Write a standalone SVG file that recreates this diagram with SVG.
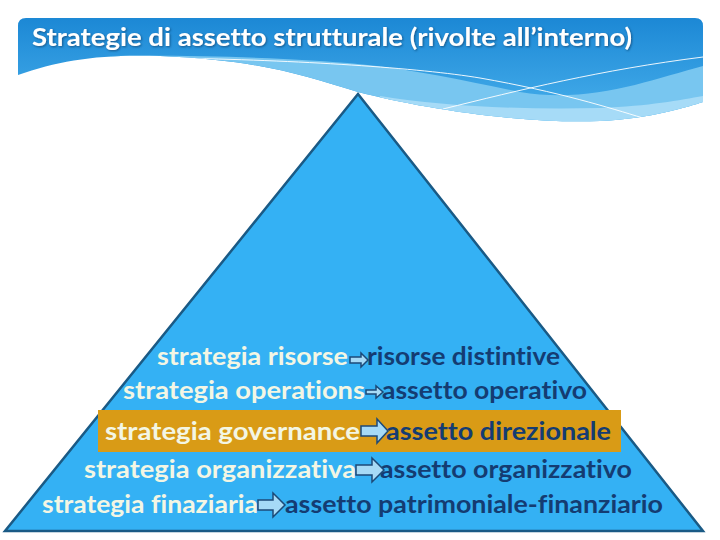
<svg xmlns="http://www.w3.org/2000/svg" width="720" height="540" viewBox="0 0 720 540">
  <defs>
    <linearGradient id="hdr" x1="0" y1="0" x2="0" y2="1">
      <stop offset="0" stop-color="#1c88d5"/>
      <stop offset="1" stop-color="#48b0ec"/>
    </linearGradient>
    <clipPath id="hclip">
      <path d="M26,18 H695 Q703,18 703,26 V102 C690,106 650,119 600,121 C520,124 420,108 358,92 C300,75 260,60 160,56 C100,54 60,60 18,75 V26 Q18,18 26,18 Z"/>
    </clipPath>
    <filter id="sh" x="-5%" y="-20%" width="110%" height="140%">
      <feDropShadow dx="1" dy="1" stdDeviation="0.8" flood-color="#0b3c66" flood-opacity="0.7"/>
    </filter>
    <style>
      .t { font-family: Lato, "Open Sans", "DejaVu Sans", sans-serif; font-weight: 700; font-size: 25px; font-variant-ligatures: none; }
      .l { fill: #f3f6e4; }
      .r { fill: #143c72; }
      .arr { fill: #a6daf6; stroke: #1c4a78; stroke-width: 1.5; stroke-linejoin: miter; }
      .wl { fill: none; stroke: #ffffff; stroke-width: 1; opacity: 0.9; }
    </style>
  </defs>

  <rect width="720" height="540" fill="#ffffff"/>

  <g id="header">
    <path d="M26,18 H695 Q703,18 703,26 V102 C690,106 650,119 600,121 C520,124 420,108 358,92 C300,75 260,60 160,56 C100,54 60,60 18,75 V26 Q18,18 26,18 Z" fill="url(#hdr)"/>
    <g clip-path="url(#hclip)">
      <path d="M110,56 C200,55 300,58 358,64 C420,70 470,82 520,92 C590,104 650,80 703,66 L703,140 L110,140 Z" fill="#78c6f0"/>
      <path d="M380,96 C440,106 520,110 600,108 C650,106 680,100 703,96 L703,140 L380,140 Z" fill="#a6dbf7"/>
      <path class="wl" d="M170,58 C300,60 420,68 480,78 C560,92 610,108 643,118"/>
      <path class="wl" d="M443,109 C520,90 600,70 703,57"/>
    </g>
    <text x="32" y="46" class="t" style="font-size:24px" fill="#ffffff" filter="url(#sh)" textLength="600" lengthAdjust="spacingAndGlyphs">Strategie di assetto strutturale (rivolte all’interno)</text>
  </g>

  <g id="pyramid">
    <polygon points="358,94 703,531 5,531" fill="#34b1f4" stroke="#1a5a85" stroke-width="2.5" stroke-linejoin="miter"/>
  </g>

  <g id="gold-band">
    <rect x="98" y="410" width="523" height="42" fill="#d99b16"/>
  </g>

  <g id="row1">
    <text x="157" y="365" class="t l" textLength="191" lengthAdjust="spacingAndGlyphs">strategia risorse</text>
    <text x="367" y="365" class="t r" textLength="193" lengthAdjust="spacingAndGlyphs">risorse distintive</text>
  </g>
  <g id="row2">
    <text x="123" y="399" class="t l" textLength="242" lengthAdjust="spacingAndGlyphs">strategia operations</text>
    <text x="382" y="399" class="t r" textLength="205" lengthAdjust="spacingAndGlyphs">assetto operativo</text>
  </g>
  <g id="row3">
    <text x="105" y="440" class="t l" textLength="255" lengthAdjust="spacingAndGlyphs">strategia governance</text>
    <text x="386" y="440" class="t r" textLength="225" lengthAdjust="spacingAndGlyphs">assetto direzionale</text>
  </g>
  <g id="row4">
    <text x="84" y="478" class="t l" textLength="272" lengthAdjust="spacingAndGlyphs">strategia organizzativa</text>
    <text x="380" y="478" class="t r" textLength="252" lengthAdjust="spacingAndGlyphs">assetto organizzativo</text>
  </g>
  <g id="row5">
    <text x="42" y="513" class="t l" textLength="216" lengthAdjust="spacingAndGlyphs">strategia finaziaria</text>
    <text x="285" y="513" class="t r" textLength="378" lengthAdjust="spacingAndGlyphs">assetto patrimoniale-finanziario</text>
  </g>

  <g id="connectors">
    <path class="arr" d="M350,357 H361 V353 L368,360 L361,367 V363 H350 Z"/>
    <path class="arr" d="M366,390 H376 V386 L383,392 L376,398 V394 H366 Z"/>
    <path class="arr" d="M361,426 H377 V419 L388,431 L377,443 V436 H361 Z"/>
    <path class="arr" d="M356,465 H372 V458 L384,470 L372,482 V475 H356 Z"/>
    <path class="arr" d="M258,500 H273 V493 L285,505 L273,517 V510 H258 Z"/>
  </g>
</svg>
